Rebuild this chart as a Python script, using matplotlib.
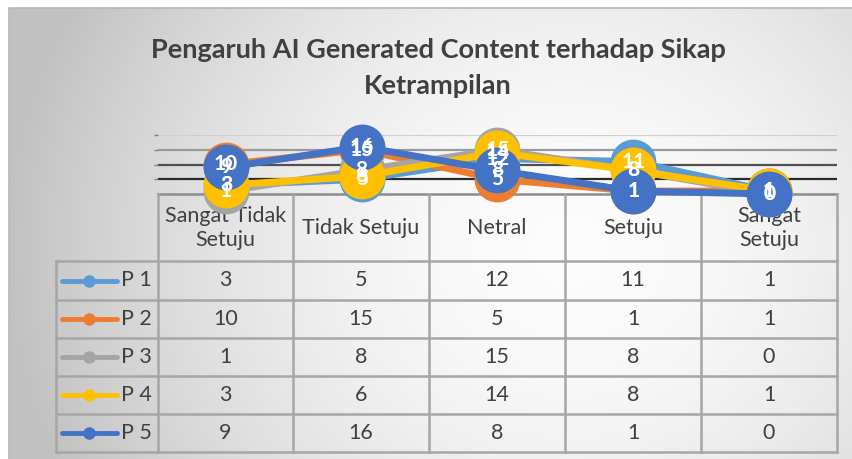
import numpy as np
import matplotlib.pyplot as plt
from matplotlib.lines import Line2D

# data
kategori = ["Sangat Tidak\nSetuju", "Tidak Setuju", "Netral", "Setuju", "Sangat\nSetuju"]
seri_nama = ["P 1", "P 2", "P 3", "P 4", "P 5"]
p1 = [3, 5, 12, 11, 1]
p2 = [10, 15, 5, 1, 1]
p3 = [1, 8, 15, 8, 0]
p4 = [3, 6, 14, 8, 1]
p5 = [9, 16, 8, 1, 0]
seri = [p1, p2, p3, p4, p5]
warna = ["#5B9BD5", "#ED7D31", "#A5A5A5", "#FFC000", "#4472C4"]
grid_y = [5, 10, 15, 20]

W, H = 853, 459
plt.rcParams['font.family'] = ['Lato', 'DejaVu Sans']
fig = plt.figure(figsize=(W / 100, H / 100), dpi=100)


def fx(x):
    return x / W


def fy(y):
    return 1 - y / H


# background gradient (chart area)
bg = fig.add_axes([0, 0, 1, 1])
bg.set_zorder(-10)
bg.set_xlim(0, W)
bg.set_ylim(H, 0)
bg.axis('off')
xx, yy = np.meshgrid(np.linspace(9, W, 400), np.linspace(8, H, 220))
r = np.sqrt(((xx - 570) / 520) ** 2 + ((yy - 250) / 480) ** 2)
val = np.clip(0.99 - 0.2 * r ** 1.8, 0.76, 1)
img = np.dstack([val, val, val])
bg.imshow(img, extent=[9, W, H, 8], aspect='auto', zorder=0)
bg.plot([9, 9, W], [H, 8, 8], color='#b8b8b8', lw=1.2, zorder=1)

# data table (drawn in pixel coords)
kol = [158, 293, 429, 565, 701, 837]
baris = [194, 261, 300, 338, 376, 414, 452]
leg_l = 56
lc = '#a6a6a6'
tb = fig.add_axes([0, 0, 1, 1])
tb.set_zorder(0)
tb.set_xlim(0, W)
tb.set_ylim(H, 0)
tb.axis('off')
tb.plot([kol[0], kol[-1]], [baris[0], baris[0]], color='#8c8c8c', lw=1.8)
for yb in baris[1:]:
    tb.plot([leg_l, kol[-1]], [yb, yb], color=lc, lw=1.8)
for xk in kol:
    tb.plot([xk, xk], [baris[0], baris[-1]], color=lc, lw=1.8)
tb.plot([leg_l, leg_l], [baris[1], baris[-1]], color=lc, lw=1.8)

for j, k in enumerate(kategori):
    tb.text((kol[j] + kol[j + 1]) / 2, (baris[0] + baris[1]) / 2 + 1, k,
            ha='center', va='center', fontsize=15.5, color='#404040',
            linespacing=1.25)

for i, (nama, vals, c) in enumerate(zip(seri_nama, seri, warna)):
    yc = (baris[i + 1] + baris[i + 2]) / 2
    tb.add_line(Line2D([62, 117], [yc, yc], color=c, lw=3.5,
                       solid_capstyle='round'))
    tb.plot([89.5], [yc], marker='o', ms=8, color=c)
    tb.text(121, yc, nama, ha='left', va='center', fontsize=15.5, color='#404040')
    for j, v in enumerate(vals):
        tb.text((kol[j] + kol[j + 1]) / 2, yc, str(v), ha='center', va='center',
                fontsize=15.5, color='#404040')

# plot area
left, right = 158, 837
top, bottom = 135, 194
ax = fig.add_axes([fx(left), fy(bottom), fx(right - left), (bottom - top) / H])
ax.set_zorder(5)
ax.set_xlim(-0.5, 4.5)
ax.set_ylim(0, 20)
ax.patch.set_alpha(0)
for s in ax.spines.values():
    s.set_visible(False)
ax.set_xticks([])
ax.set_yticks(grid_y)
ax.tick_params(axis='y', length=3, width=1, color='#808080', labelleft=False)
gcol = ['#2a2a2a', '#505050', '#9a9a9a', '#cfcfcf']
for g, c in zip(grid_y, gcol):
    ax.axhline(g, color=c, lw=1.6, zorder=1)

x = np.arange(len(kategori))
for i, (vals, c) in enumerate(zip(seri, warna)):
    ax.plot(x, vals, color=c, lw=5, marker='o', ms=32, mfc=c, mec=c,
            solid_capstyle='round', solid_joinstyle='round',
            clip_on=False, zorder=3 + i)
for vals in seri:
    for xi, v in zip(x, vals):
        ax.text(xi, v, str(v), color='white', fontsize=15, fontweight='bold',
                ha='center', va='center', zorder=20, clip_on=False)

# title
fig.text(fx(438), fy(50), "Pengaruh AI Generated Content terhadap Sikap",
         ha='center', va='center', fontsize=19.5, fontweight='bold', color='#404040')
fig.text(fx(438), fy(86), "Ketrampilan",
         ha='center', va='center', fontsize=19.5, fontweight='bold', color='#404040')

fig.savefig('out.png', dpi=100)
